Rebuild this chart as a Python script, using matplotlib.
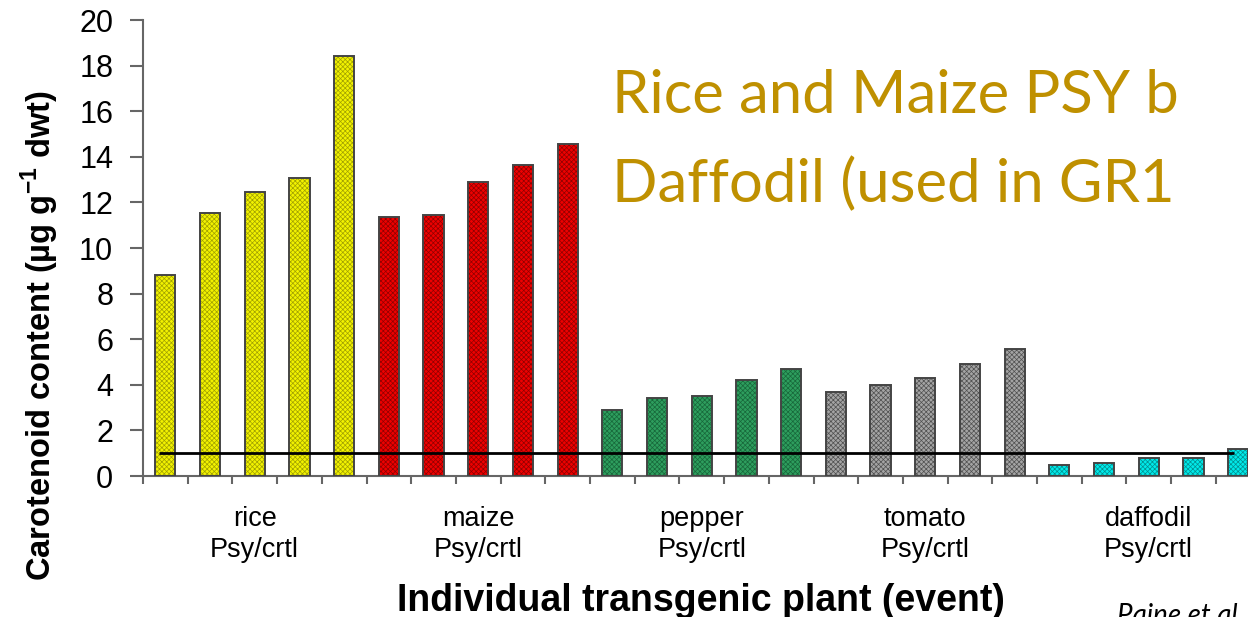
import matplotlib
matplotlib.use("Agg")
import matplotlib.pyplot as plt
import matplotlib.transforms as mtransforms

# ---- data ----
groups = ["rice", "maize", "pepper", "tomato", "daffodil"]
group_sub = "Psy/crtl"
rice = [8.8, 11.55, 12.45, 13.05, 18.4]
maize = [11.35, 11.45, 12.9, 13.65, 14.55]
pepper = [2.9, 3.4, 3.5, 4.2, 4.7]
tomato = [3.7, 4.0, 4.3, 4.9, 5.55]
daffodil = [0.5, 0.55, 0.8, 0.8, 1.2]
control_level = 1.0
yticks = [0, 2, 4, 6, 8, 10, 12, 14, 16, 18, 20]
ylabel = "Carotenoid content (µg g$^{\\mathbf{-1}}$ dwt)"
xlabel = "Individual transgenic plant (event)"
title_lines = ["Rice and Maize PSY b", "Daffodil (used in GR1"]
citation = "Paine et al."

face_colors = ["#F2F200", "#EE0000", "#2E9E5E", "#A4A4A4", "#00EAEA"]
hatch_colors = ["#A0A000", "#900000", "#17673A", "#505050", "#009090"]

plt.rcParams['font.family'] = ['Liberation Sans', 'DejaVu Sans']
plt.rcParams['mathtext.fontset'] = 'custom'
plt.rcParams['mathtext.rm'] = 'Liberation Sans'
plt.rcParams['mathtext.bf'] = 'Liberation Sans:bold'
plt.rcParams['hatch.linewidth'] = 0.5

fig = plt.figure(figsize=(12.48, 6.17), dpi=100)
W, H = 1248, 617
left_px, right_px, top_px, bot_px = 143, 1260.5, 20, 476
ax = fig.add_axes([left_px / W, 1 - bot_px / H, (right_px - left_px) / W, (bot_px - top_px) / H])

series = [rice, maize, pepper, tomato, daffodil]
gsize = len(rice)
bar_w = 0.45
for g, vals in enumerate(series):
    xs = [g * gsize + k for k in range(len(vals))]
    ax.bar(xs, vals, width=bar_w, color=face_colors[g], edgecolor=hatch_colors[g],
           hatch='xxxxxxx', linewidth=0, zorder=2)
    ax.bar(xs, vals, width=bar_w, facecolor='none', edgecolor='#444444',
           linewidth=1.4, zorder=3)

n = len(series) * gsize
ax.hlines(control_level, -0.15, n - 1.1, color='black', linewidth=2, zorder=4)

ax.set_xlim(-0.5, n - 0.5)
ax.set_ylim(0, 20)
ax.set_yticks(yticks)
ax.set_yticklabels([str(t) for t in yticks], fontsize=22)
ax.set_xticks([i - 0.5 for i in range(n + 1)])
ax.set_xticklabels([])
ax.tick_params(axis='y', length=9.5, width=1.5, color='#666666', pad=12)
ax.tick_params(axis='x', length=6, width=1.5, color='#666666')
for s in ['top', 'right']:
    ax.spines[s].set_visible(False)
for s in ['left', 'bottom']:
    ax.spines[s].set_color('#666666')
    ax.spines[s].set_linewidth(1.5)

trans = mtransforms.blended_transform_factory(ax.transData, fig.transFigure)
for g, name in enumerate(groups):
    cx = g * gsize + (gsize - 1) / 2
    ax.text(cx, 1 - 519 / H, name, transform=trans, ha='center', va='center', fontsize=19.5)
    ax.text(cx, 1 - 550 / H, group_sub, transform=trans, ha='center', va='center', fontsize=19.5)

fig.text(701 / W, 1 - 601 / H, xlabel, ha='center', va='center', fontsize=27, fontweight='bold')
fig.text(40 / W, 1 - 336 / H, ylabel, ha='center', va='center', rotation=90,
         fontsize=23.5, fontweight='bold')

tcol = '#BF9000'
fig.text(612 / W, 1 - 113 / H, title_lines[0], ha='left', va='baseline',
         fontsize=43, color=tcol, family='Lato')
fig.text(612 / W, 1 - 202 / H, title_lines[1], ha='left', va='baseline',
         fontsize=43, color=tcol, family='Lato')
fig.text(1117 / W, 1 - 603 / H, citation, ha='left', va='top', fontsize=20,
         style='italic', family='Lato', color='black')

fig.savefig("out.png", dpi=100)
